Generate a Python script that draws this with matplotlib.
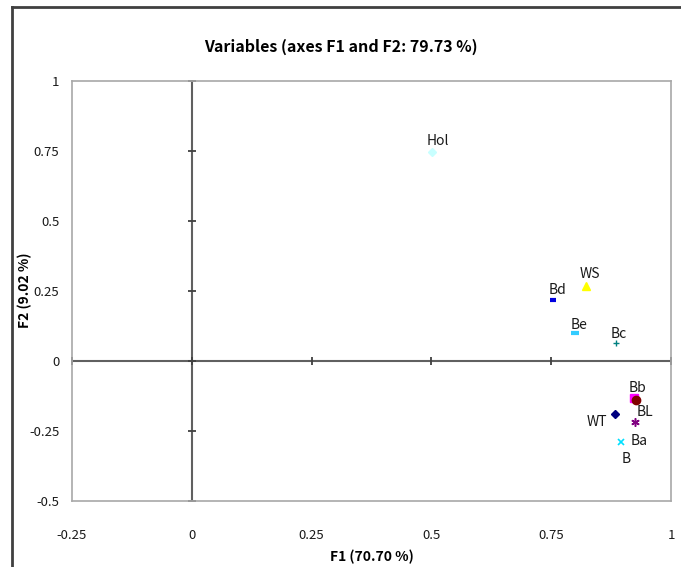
import numpy as np
import matplotlib
matplotlib.use("Agg")
import matplotlib.pyplot as plt
from matplotlib.lines import Line2D

plt.rcParams['font.family'] = ['Noto Sans CJK KR', 'DejaVu Sans']

# variable coordinates on F1 / F2
names = ["Hol", "Bd", "WS", "Be", "Bc", "Bb", "B", "WT", "BL", "Ba"]
f1 = [0.502, 0.754, 0.823, 0.800, 0.885, 0.923, 0.927, 0.883, 0.925, 0.896]
f2 = [0.746, 0.218, 0.268, 0.100, 0.064, -0.132, -0.139, -0.189, -0.218, -0.290]

xticks = [-0.25, 0, 0.25, 0.5, 0.75, 1]
yticks = [-0.5, -0.25, 0, 0.25, 0.5, 0.75, 1]
xtick_labels = ["-0.25", "0", "0.25", "0.5", "0.75", "1"]
ytick_labels = ["-0.5", "-0.25", "0", "0.25", "0.5", "0.75", "1"]

# marker style per variable: (marker, color, size, edge width)
styles = {
    "Hol": ("D", "#c8ffff", 4, 0),
    "Bd": ("_", "#0000e0", 5, 3),
    "WS": ("^", "#ffff00", 6, 0),
    "Be": ("_", "#33ccff", 6, 3),
    "Bc": ("+", "#008080", 5, 1),
    "Bb": ("s", "#ff00ff", 6, 0),
    "B": ("o", "#800000", 6, 0),
    "WT": ("D", "#000080", 4, 0),
    "BL": ((6, 2, 0), "#800080", 6, 1.1),
    "Ba": ("x", "#00e0ff", 5, 1.2),
}
# label offsets in pixels from the marker
label_off = {
    "Hol": (5, 11), "Bd": (4, 10), "WS": (4, 12), "Be": (4, 8), "Bc": (3, 9),
    "Bb": (3, 10), "B": (-10, -59), "WT": (-18, -8), "BL": (10, 10), "Ba": (18, 1),
}

fig = plt.figure(figsize=(6.81, 5.67), dpi=100)
ax = fig.add_axes([72 / 681, 1 - 501 / 567, 599 / 681, 420 / 567])

ax.set_xlim(-0.25, 1)
ax.set_ylim(-0.5, 1)
for s in ax.spines.values():
    s.set_color("#a8a8a8")
    s.set_linewidth(1.2)

# zero lines with their own tick marks
ax.axhline(0, color="#606060", lw=1.5, zorder=1)
ax.axvline(0, color="#606060", lw=1.5, zorder=1)
ax.plot(xticks, np.zeros(len(xticks)), ls="none", marker="|", ms=6, mew=1.3, color="#404040",
        zorder=1, clip_on=False)
ax.plot(np.zeros(len(yticks)), yticks, ls="none", marker="_", ms=6, mew=1.3, color="#404040",
        zorder=1, clip_on=False)

for n, x, y in zip(names, f1, f2):
    m, c, ms, mew = styles[n]
    if mew:
        ax.plot(x, y, ls="none", marker=m, ms=ms, mew=mew, color=c, zorder=3)
    else:
        ax.plot(x, y, ls="none", marker=m, ms=ms, color=c, mec=c, zorder=3)
    dx, dy = label_off[n]
    ax.annotate(n, (x, y), xytext=(dx, dy), textcoords="offset pixels",
                ha="center", va="center", fontsize=10, color="#1a1a1a")

ax.set_xticks(xticks)
ax.set_xticklabels(xtick_labels)
ax.set_yticks(yticks)
ax.set_yticklabels(ytick_labels)
ax.tick_params(axis="both", length=0, labelsize=9.5, labelcolor="#1a1a1a")
ax.tick_params(axis="x", pad=20)
ax.tick_params(axis="y", pad=9)

ax.set_xlabel("F1 (70.70 %)", fontsize=10, fontweight="bold", labelpad=6)
fig.text(25 / 681, 1 - 290 / 567, "F2 (9.02 %)", rotation=90, ha="center", va="center",
         fontsize=10, fontweight="bold")

fig.text(341 / 681, 1 - 47 / 567, "Variables (axes F1 and F2: 79.73 %)", ha="center",
         va="center", fontsize=11.5, fontweight="bold")

# outer chart frame (only left and top edges are visible in the crop)
fig.add_artist(Line2D([12 / 681, 12 / 681], [0, 1 - 7 / 567], color="#404040", lw=2))
fig.add_artist(Line2D([12 / 681, 1], [1 - 7 / 567, 1 - 7 / 567], color="#404040", lw=2))

fig.savefig("out.png", dpi=100)
